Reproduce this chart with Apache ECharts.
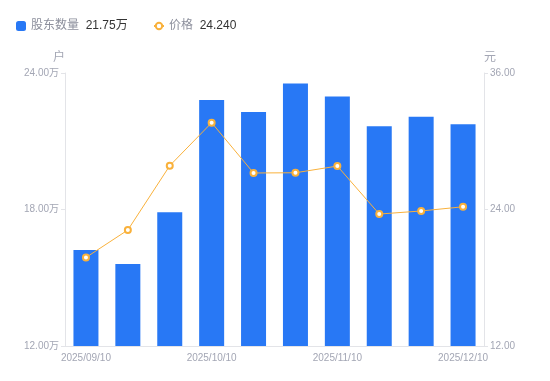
<!DOCTYPE html>
<html>
<head>
<meta charset="utf-8">
<script src="https://cdn.jsdelivr.net/npm/echarts@6/dist/echarts.min.js"></script>
<style>html,body{margin:0;padding:0;background:#fff}#c{width:550px;height:381px}</style>
</head>
<body>
<div id="c"></div>
<script>
var categories = ['2025/09/10','2025/09/20','2025/09/30','2025/10/10','2025/10/20','2025/10/31','2025/11/10','2025/11/20','2025/11/30','2025/12/10'];
var holders = [16.22, 15.60, 17.88, 22.81, 22.29, 23.54, 22.97, 21.66, 22.08, 21.75];
var prices = [19.78, 22.20, 27.85, 31.63, 27.21, 27.23, 27.82, 23.60, 23.87, 24.24];
var leftTicks = {min: 12, max: 24, interval: 6};
var rightTicks = {min: 12, max: 36, interval: 12};
var holderName = '股东数量', priceName = '价格';
var holderLatest = '21.75万', priceLatest = '24.240';

var font = '"Liberation Sans", Arial, "Noto Sans CJK SC", sans-serif';
var labelColor = '#a3a6b4';
var axisLineColor = '#e3e4e8';
var chart = echarts.init(document.getElementById('c'), null, {renderer: 'canvas'});
var rich = {a: {color: '#8c8f9c', fontSize: 12, fontFamily: font}, b: {color: '#333', fontSize: 12, fontFamily: font}};
chart.setOption({
  animation: false,
  textStyle: {fontFamily: font},
  legend: [{
    left: 11, top: 15, icon: 'roundRect', itemWidth: 10, itemHeight: 10, itemGap: 5,
    data: [holderName],
    formatter: function (n) { return '{a|' + n + '}  {b|' + holderLatest + '}'; },
    textStyle: {rich: rich}
  }, {
    left: 148, top: 15, itemWidth: 10, itemHeight: 8,
    data: [priceName],
    formatter: function (n) { return '{a|' + n + '}  {b|' + priceLatest + '}'; },
    textStyle: {rich: rich}
  }],
  grid: {left: 65, right: 66, top: 73, bottom: 35},
  xAxis: {
    type: 'category', data: categories,
    axisLine: {lineStyle: {color: axisLineColor}},
    axisTick: {show: false},
    axisLabel: {interval: 2, color: labelColor, fontSize: 10, margin: 7, fontFamily: font}
  },
  yAxis: [{
    type: 'value', name: '户', min: leftTicks.min, max: leftTicks.max, interval: leftTicks.interval,
    nameTextStyle: {color: labelColor, fontSize: 12, align: 'right', padding: [0, 0, 0, 0]},
    nameGap: 9,
    axisLine: {show: true, lineStyle: {color: axisLineColor}},
    axisTick: {show: true, length: 4, lineStyle: {color: axisLineColor}},
    splitLine: {show: false},
    axisLabel: {color: labelColor, fontSize: 10, margin: 6, fontFamily: font,
      formatter: function (v) { return v.toFixed(2) + '万'; }}
  }, {
    type: 'value', name: '元', min: rightTicks.min, max: rightTicks.max, interval: rightTicks.interval,
    nameTextStyle: {color: labelColor, fontSize: 12, align: 'left', padding: [0, 0, 0, 0]},
    nameGap: 9,
    axisLine: {show: true, lineStyle: {color: axisLineColor}},
    axisTick: {show: true, length: 4, lineStyle: {color: axisLineColor}},
    splitLine: {show: false},
    axisLabel: {color: labelColor, fontSize: 10, margin: 6, fontFamily: font,
      formatter: function (v) { return v.toFixed(2); }}
  }],
  series: [{
    name: holderName, type: 'bar', data: holders, yAxisIndex: 0,
    barWidth: 25,
    itemStyle: {color: '#2878f5'}
  }, {
    name: priceName, type: 'line', data: prices, yAxisIndex: 1,
    symbol: 'emptyCircle', symbolSize: 6,
    lineStyle: {color: '#f9b13b', width: 1},
    itemStyle: {color: '#f9b13b', borderWidth: 2}
  }]
});
</script>
</body>
</html>
